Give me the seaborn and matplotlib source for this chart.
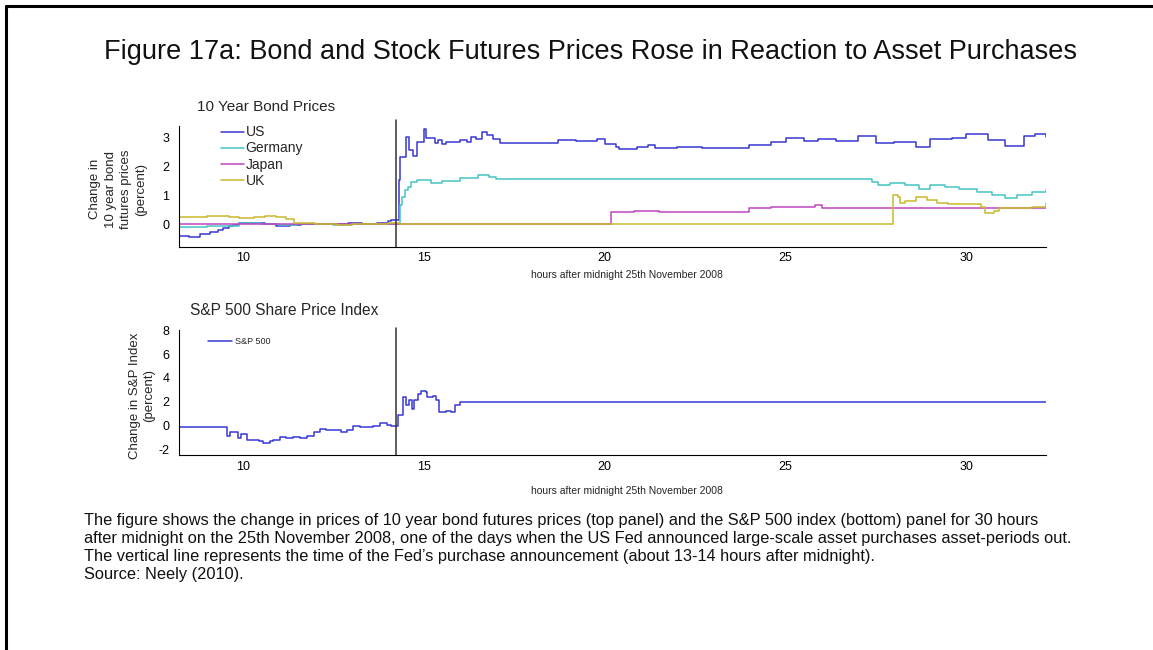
import numpy as np
import pandas as pd
import matplotlib
matplotlib.use("Agg")
from matplotlib import pyplot as plt
from matplotlib.lines import Line2D
import seaborn as sns

# ---- data (hours after midnight, percent change) ----
us_hours = [8.23, 8.5, 8.8, 9.1, 9.3, 9.45, 9.6, 9.72, 9.9, 10.2, 10.6, 10.9, 11.3, 11.6, 12.0, 12.4,
            12.9, 13.3, 13.7, 14.0, 14.1, 14.3, 14.35, 14.5, 14.6, 14.7, 14.82, 15.0, 15.05, 15.3,
            15.4, 15.5, 15.6, 15.75, 16.0, 16.2, 16.3, 16.45, 16.6, 16.75, 16.9, 17.1, 18.7, 19.2,
            19.8, 20.0, 20.3, 20.4, 20.9, 21.2, 21.4, 22.0, 22.7, 23.6, 24.0, 24.6, 25.0, 25.5,
            25.9, 26.4, 27.0, 27.5, 28.0, 28.6, 29.0, 29.6, 30.0, 30.6, 31.06, 31.6, 31.9, 32.2]
us_vals = [-0.39, -0.42, -0.33, -0.25, -0.18, -0.13, -0.06, -0.02, 0.04, 0.05, 0.02, -0.04, -0.03, 0.02, 0.03, 0.0,
           0.06, 0.03, 0.06, 0.12, 0.16, 1.54, 2.35, 3.04, 2.58, 2.37, 2.87, 3.29, 2.98, 2.81,
           2.92, 2.78, 2.85, 2.87, 2.92, 2.85, 3.04, 2.95, 3.19, 3.1, 2.95, 2.83, 2.92, 2.9,
           2.95, 2.8, 2.69, 2.6, 2.69, 2.75, 2.64, 2.67, 2.64, 2.66, 2.75, 2.87, 2.98, 2.9,
           2.95, 2.9, 3.06, 2.81, 2.87, 2.67, 2.95, 3.0, 3.13, 2.92, 2.72, 3.06, 3.13, 3.04]

de_hours = [8.23, 8.6, 9.0, 9.6, 9.9, 10.5, 11.0, 11.5, 12.0, 12.5, 13.0, 13.5, 14.0, 14.33, 14.4,
            14.48, 14.55, 14.65, 14.8, 15.0, 15.2, 15.5, 16.0, 16.5, 16.8, 17.0, 27.1, 27.4, 27.55,
            27.9, 28.3, 28.7, 29.0, 29.4, 29.8, 30.3, 30.7, 31.06, 31.4, 31.8, 32.2]
de_vals = [-0.08, -0.1, -0.06, -0.05, 0.04, 0.02, -0.02, 0.03, 0.0, -0.03, 0.02, 0.0, 0.03, 0.67, 0.96,
           1.19, 1.3, 1.48, 1.54, 1.55, 1.43, 1.52, 1.6, 1.71, 1.65, 1.56, 1.56, 1.48, 1.37,
           1.45, 1.37, 1.22, 1.38, 1.3, 1.22, 1.14, 1.02, 0.91, 1.02, 1.14, 1.19]

jp_hours = [8.23, 20.17, 20.8, 21.5, 23.5, 24.0, 24.6, 25.5, 25.8, 26.0, 26.8, 28.0, 32.2]
jp_vals = [0.01, 0.44, 0.47, 0.44, 0.44, 0.56, 0.62, 0.6, 0.66, 0.56, 0.58, 0.58, 0.56]

uk_hours = [8.23, 8.7, 9.0, 9.4, 9.6, 9.9, 10.3, 10.6, 10.9, 11.2, 11.4, 12.0, 12.6, 13.0, 13.6,
            14.0, 14.3, 27.97, 28.1, 28.15, 28.3, 28.6, 28.9, 29.2, 29.5, 30.4, 30.5, 30.75,
            30.9, 31.5, 31.8, 32.2]
uk_vals = [0.25, 0.27, 0.29, 0.3, 0.27, 0.24, 0.27, 0.3, 0.26, 0.2, 0.04, 0.03, -0.03, 0.02, 0.0,
           0.04, 0.01, 1.02, 0.94, 0.73, 0.8, 0.94, 0.85, 0.75, 0.7, 0.62, 0.39, 0.45,
           0.56, 0.58, 0.62, 0.73]

sp_hours = [8.23, 9.55, 9.65, 9.85, 9.95, 10.1, 10.3, 10.45, 10.56, 10.75, 10.84, 11.02, 11.2, 11.39,
            11.58, 11.76, 11.95, 12.13, 12.3, 12.5, 12.7, 12.87, 13.05, 13.23, 13.6, 13.79, 13.97,
            14.1, 14.29, 14.42, 14.51, 14.6, 14.66, 14.74, 14.83, 14.92, 15.05, 15.1, 15.24, 15.33,
            15.42, 15.6, 15.75, 15.85, 15.99, 32.3]
sp_vals = [-0.1, -0.92, -0.6, -1.1, -0.75, -1.2, -1.25, -1.3, -1.48, -1.35, -1.26, -0.98, -1.1, -0.98,
           -1.1, -0.9, -0.56, -0.28, -0.42, -0.35, -0.56, -0.42, -0.08, -0.14, -0.08, 0.2, 0.0,
           -0.08, 0.84, 2.43, 1.68, 2.1, 1.4, 2.1, 2.65, 2.93, 2.85, 2.43, 2.5, 2.1,
           1.12, 1.25, 1.12, 1.68, 1.95, 1.95]

announcement = 14.24
countries = ["US", "Germany", "Japan", "UK"]
colours = {"US": "#3838d0", "Germany": "#45c4c4", "Japan": "#c046c0", "UK": "#c9b82c"}

bonds = pd.concat([
    pd.DataFrame({"hour": us_hours, "change": us_vals, "country": "US"}),
    pd.DataFrame({"hour": de_hours, "change": de_vals, "country": "Germany"}),
    pd.DataFrame({"hour": jp_hours, "change": jp_vals, "country": "Japan"}),
    pd.DataFrame({"hour": uk_hours, "change": uk_vals, "country": "UK"}),
], ignore_index=True)
sp = pd.DataFrame({"hour": sp_hours, "change": sp_vals})

sns.set_style("white")
plt.rcParams["font.family"] = ["Liberation Sans", "DejaVu Sans"]
plt.rcParams["axes.unicode_minus"] = False

fig = plt.figure(figsize=(11.53, 6.5), dpi=100)
W, H = 1153, 650

def box(x0, y_top, x1, y_bot):
    return [x0 / W, 1 - y_bot / H, (x1 - x0) / W, (y_bot - y_top) / H]

ax1 = fig.add_axes(box(179, 126, 1046, 246.7))
ax2 = fig.add_axes(box(179, 330, 1046, 455))

# top panel
sns.lineplot(data=bonds, x="hour", y="change", hue="country", hue_order=countries,
             palette=colours, estimator=None, drawstyle="steps-post", linewidth=1.1, ax=ax1)
ax1.axvline(announcement, ymin=0, ymax=1.05, color="#333333", lw=1.1, clip_on=False)
ax1.set_xlim(8.23, 32.2)
ax1.set_ylim(-0.77, 3.41)
ax1.set_yticks([0, 1, 2, 3])
ax1.set_xticks([10, 15, 20, 25, 30])
ax1.set_title("10 Year Bond Prices", loc="left", x=0.021, fontsize=11, pad=11)
ax1.set_xlabel("hours after midnight 25th November 2008", fontsize=7.5)
ax1.set_ylabel("Change in\n10 year bond\nfutures prices\n(percent)", fontsize=9.5, linespacing=1.35)
ax1.xaxis.set_label_coords(0.5165, -0.19)
ax1.yaxis.set_label_coords(-0.037, 0.478)
ax1.legend(loc="upper left", bbox_to_anchor=(0.048, 1.005), frameon=False, fontsize=10,
           handlelength=1.7, handletextpad=0.1, labelspacing=0.15, borderaxespad=0, borderpad=0)

# bottom panel
sns.lineplot(data=sp, x="hour", y="change", color="#3838d4", estimator=None,
             drawstyle="steps-post", linewidth=1.1, label="S&P 500", ax=ax2)
ax2.axvline(announcement, ymin=0, ymax=1.016, color="#333333", lw=1.1, clip_on=False)
ax2.set_xlim(8.23, 32.2)
ax2.set_ylim(-2.5, 8.05)
ax2.set_yticks([-2, 0, 2, 4, 6, 8])
ax2.set_xticks([10, 15, 20, 25, 30])
ax2.set_title("S&P 500 Share Price Index", loc="left", x=0.013, fontsize=11.2, pad=11)
ax2.set_xlabel("hours after midnight 25th November 2008", fontsize=7.5)
ax2.set_ylabel("Change in S&P Index\n(percent)", fontsize=9.5, linespacing=1.2)
ax2.xaxis.set_label_coords(0.5165, -0.245)
ax2.yaxis.set_label_coords(-0.028, 0.472)
ax2.legend(loc="upper left", bbox_to_anchor=(0.034, 0.94), frameon=False, fontsize=6.5,
           handlelength=2.6, handletextpad=0.3, borderaxespad=0, borderpad=0)

for ax in (ax1, ax2):
    sns.despine(ax=ax)
    ax.spines["left"].set_color("black")
    ax.spines["bottom"].set_color("black")
    ax.tick_params(direction="in", length=5, width=1, labelsize=9, colors="black")
    ax.tick_params(axis="y", pad=7)
    ax.tick_params(axis="x", pad=4)

fig.text(590 / W, 1 - 52 / H,
         "Figure 17a: Bond and Stock Futures Prices Rose in Reaction to Asset Purchases",
         ha="center", va="center", fontsize=19.5, color="#111111")

caption = [
    "The figure shows the change in prices of 10 year bond futures prices (top panel) and the S&P 500 index (bottom) panel for 30 hours",
    "after midnight on the 25th November 2008, one of the days when the US Fed announced large-scale asset purchases asset-periods out.",
    "The vertical line represents the time of the Fed\u2019s purchase announcement (about 13-14 hours after midnight).",
    "Source: Neely (2010).",
]
for i, line in enumerate(caption):
    fig.text(84 / W, 1 - (520 + 18 * i) / H, line, ha="left", va="center", fontsize=11.8, color="#111111")

# page frame (top and left edges)
fig.add_artist(Line2D([6 / W, 6 / W], [0, 1 - 6 / H], color="black", lw=2.2, transform=fig.transFigure))
fig.add_artist(Line2D([6 / W, 1], [1 - 6 / H, 1 - 6 / H], color="black", lw=2.2, transform=fig.transFigure))

fig.savefig("out.png", dpi=100)
